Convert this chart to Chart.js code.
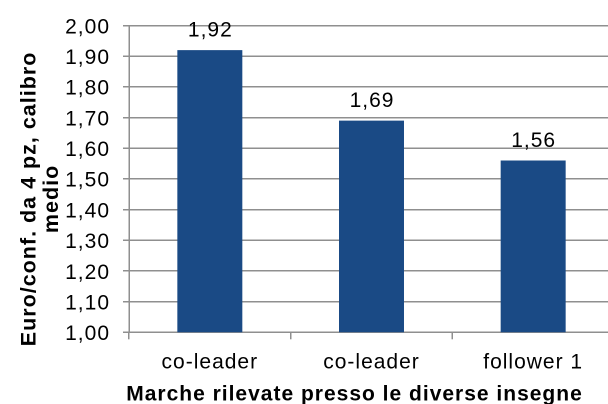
<!DOCTYPE html>
<html>
<head>
<meta charset="utf-8">
<script src="https://cdn.jsdelivr.net/npm/chart.js@4/dist/chart.umd.min.js"></script>
<style>
  html, body { margin: 0; padding: 0; width: 608px; height: 404px; overflow: hidden; background: #fff; }
  #wrap { position: absolute; left: 0; top: 0; width: 614px; height: 404px; }
</style>
</head>
<body>
<div id="wrap"><canvas id="c"></canvas></div>
<script>
const categories = ['co-leader', 'co-leader', 'follower 1'];
const prices = [1.92, 1.69, 1.56];
const valueLabels = ['1,92', '1,69', '1,56'];
const yTickLabels = ['1,00','1,10','1,20','1,30','1,40','1,50','1,60','1,70','1,80','1,90','2,00'];
const yTitle = ['Euro/conf. da 4 pz, calibro', 'medio'];
const xTitle = 'Marche rilevate presso le diverse insegne';

const FONT = "'Liberation Sans', Arial, sans-serif";
const GRID = '#8f8f8f';

function shiftTitle(scale, dx, dy) {
  if (scale._shifted) return;
  const orig = scale.drawTitle.bind(scale);
  scale.drawTitle = function () {
    const ctx = this.ctx;
    ctx.save();
    ctx.translate(dx, dy);
    orig();
    ctx.restore();
  };
  scale._shifted = true;
}

const spacingPlugin = {
  id: 'letterSpacing',
  beforeUpdate(chart) { chart.ctx.letterSpacing = '1px'; },
  beforeDraw(chart) { chart.ctx.letterSpacing = '1px'; }
};

const valueLabelPlugin = {
  id: 'valueLabels',
  afterDatasetsDraw(chart) {
    const ctx = chart.ctx;
    const meta = chart.getDatasetMeta(0);
    ctx.save();
    ctx.font = '21px ' + FONT;
    ctx.fillStyle = '#000';
    ctx.textAlign = 'center';
    ctx.textBaseline = 'alphabetic';
    meta.data.forEach((el, i) => {
      ctx.fillText(valueLabels[i], el.x + 0.5, el.y - 13.7);
    });
    ctx.restore();
  }
};

new Chart(document.getElementById('c'), {
  type: 'bar',
  data: {
    labels: categories,
    datasets: [{
      data: prices,
      backgroundColor: '#1A4A85',
      borderWidth: 0,
      barPercentage: 0.402,
      categoryPercentage: 1.0
    }]
  },
  options: {
    responsive: true,
    maintainAspectRatio: false,
    animation: false,
    devicePixelRatio: 2,
    layout: { padding: { top: 24, right: 0, bottom: 0, left: 0 } },
    plugins: { legend: { display: false }, tooltip: { enabled: false } },
    scales: {
      x: {
        offset: true,
        grid: { display: true, drawOnChartArea: false, drawTicks: true, tickLength: 7, offset: true, color: GRID, lineWidth: 1.5 },
        border: { display: true, color: GRID, width: 1.5 },
        ticks: { color: '#000', font: { family: FONT, size: 21 }, padding: 10.8, maxRotation: 0 },
        title: { display: true, text: xTitle, color: '#000', font: { family: FONT, size: 21, weight: 'bold', lineHeight: 0.9 }, padding: { top: 0, bottom: 0 } },
        afterFit(scale) { scale.height = 71.7; shiftTitle(scale, -17, 0); }
      },
      y: {
        min: 1, max: 2,
        grid: { color: GRID, lineWidth: 1.5, drawTicks: true, tickLength: 6 },
        border: { display: true, color: GRID, width: 1.5 },
        ticks: {
          stepSize: 0.1,
          color: '#000',
          font: { family: FONT, size: 21 },
          padding: 13,
          labelOffset: 2,
          callback: (v) => yTickLabels[Math.round((v - 1) * 10)]
        },
        title: { display: true, text: yTitle, color: '#000', font: { family: FONT, size: 21.5, weight: 'bold', lineHeight: 1.05 }, padding: { top: 18.1, bottom: 0 } },
        afterFit(scale) { scale.width = 129; shiftTitle(scale, 0, 20); }
      }
    }
  },
  plugins: [spacingPlugin, valueLabelPlugin]
});
</script>
</body>
</html>
